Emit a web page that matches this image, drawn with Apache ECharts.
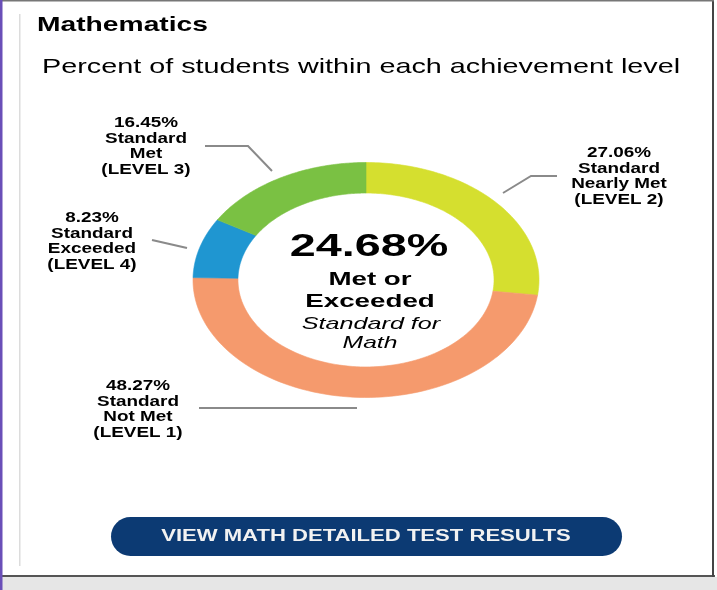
<!DOCTYPE html>
<html>
<head>
<meta charset="utf-8">
<script src="https://cdn.jsdelivr.net/npm/echarts@6/dist/echarts.min.js"></script>
<style>
  html, body { margin: 0; padding: 0; background: #fff; }
  #chart { width: 717px; height: 590px; }
</style>
</head>
<body>
<div id="chart"></div>
<script>
  // slices in clockwise order starting at 12 o'clock
  const levelNames = ['Standard\nNearly Met\n(LEVEL 2)', 'Standard\nNot Met\n(LEVEL 1)', 'Standard\nExceeded\n(LEVEL 4)', 'Standard\nMet\n(LEVEL 3)']
  const percents = [27.06, 48.27, 8.23, 16.45]
  const metIdx = [2, 3] // level 4 + level 3

  const sliceColors = ['#d5df2f', '#f59a6d', '#1f96d1', '#7ac143']
  const FONT = '"Liberation Sans", Arial, sans-serif'

  const total = percents.reduce((a, b) => a + b, 0)
  let acc = 0
  const sliceData = percents.map((p, i) => {
    const item = {value: [acc / total, (acc + p) / total], itemStyle: {color: sliceColors[i]}}
    acc += p
    return item
  })
  const metTotal = metIdx.reduce((s, i) => s + percents[i], 0)

  const INNER = 0.74
  function renderSlice(params, api) {
    const start = api.value(0)
    const end = api.value(1)
    const steps = 90
    const pts = []
    for (let k = 0; k <= steps; k++) {
      const a = Math.PI / 2 - (start + (end - start) * k / steps) * 2 * Math.PI
      pts.push(api.coord([Math.cos(a), Math.sin(a)]))
    }
    for (let k = steps; k >= 0; k--) {
      const a = Math.PI / 2 - (start + (end - start) * k / steps) * 2 * Math.PI
      pts.push(api.coord([INNER * Math.cos(a), INNER * Math.sin(a)]))
    }
    const c = api.visual('color')
    return {type: 'polygon', shape: {points: pts}, style: {fill: c, stroke: c, lineWidth: 0.6}}
  }

  // label placement, same order as percents
  const labelPos = [[619, 176.5], [138, 409.5], [92, 241.5], [146, 146.5]]
  const leaderPts = [
    [[557, 176], [531, 176], [503, 193]],
    [[199, 408], [357, 408]],
    [[152, 240], [187, 248]],
    [[205, 146], [248, 146], [272, 171]]
  ]

  function txt(text, x, y, font, sx, opts) {
    return Object.assign({
      type: 'text', x: x, y: y, scaleX: sx, z: 10,
      style: {
        text: text, font: font, fill: '#000',
        align: 'center', verticalAlign: 'middle',
        textAlign: 'center', textVerticalAlign: 'middle'
      }
    }, opts || {})
  }

  const graphics = [
    // frame
    {type: 'rect', shape: {x: 0, y: 0, width: 717, height: 590}, style: {fill: '#fff'}, z: 0},
    {type: 'rect', shape: {x: 0, y: 577, width: 717, height: 13}, style: {fill: '#e6e6e6'}, z: 1},
    {type: 'rect', shape: {x: 0, y: 575, width: 715, height: 2}, style: {fill: '#555'}, z: 2},
    {type: 'rect', shape: {x: 712, y: 0, width: 2, height: 577}, style: {fill: '#444'}, z: 2},
    {type: 'rect', shape: {x: 2, y: 0, width: 712, height: 1.5}, style: {fill: '#777'}, z: 2},
    {type: 'rect', shape: {x: 0, y: 0, width: 2.5, height: 590}, style: {fill: '#6a4fb8'}, z: 3},
    {type: 'rect', shape: {x: 19, y: 14, width: 1.5, height: 552}, style: {fill: '#dcdcdc'}, z: 2},
    // titles
    txt('Mathematics', 37, 25, 'bold 21px ' + FONT, 1.344, {style: {text: 'Mathematics', font: 'bold 21px ' + FONT, fill: '#000', align: 'left', verticalAlign: 'middle', textAlign: 'left', textVerticalAlign: 'middle'}}),
    txt('Percent of students within each achievement level', 42, 67, '21px ' + FONT, 1.37, {style: {text: 'Percent of students within each achievement level', font: '21px ' + FONT, fill: '#000', align: 'left', verticalAlign: 'middle', textAlign: 'left', textVerticalAlign: 'middle'}}),
    // centre
    txt(metTotal.toFixed(2) + '%', 369, 247, 'bold 32px ' + FONT, 1.46),
    txt('Met or', 370, 280, 'bold 19px ' + FONT, 1.46),
    txt('Exceeded', 370, 302, 'bold 19px ' + FONT, 1.46),
    txt('Standard for', 371, 324, 'italic 17px ' + FONT, 1.48),
    txt('Math', 370, 343, 'italic 17px ' + FONT, 1.45),
    // button
    {type: 'rect', shape: {x: 111, y: 517, width: 511, height: 39, r: 19.5}, style: {fill: '#0c3a73'}, z: 5},
    txt('VIEW MATH DETAILED TEST RESULTS', 366, 536.5, 'bold 16px ' + FONT, 1.38, {style: {text: 'VIEW MATH DETAILED TEST RESULTS', font: 'bold 16px ' + FONT, fill: '#f2f2f2', align: 'center', verticalAlign: 'middle', textAlign: 'center', textVerticalAlign: 'middle'}})
  ]

  percents.forEach((p, i) => {
    const t = txt(p.toFixed(2) + '%\n' + levelNames[i], labelPos[i][0], labelPos[i][1], 'bold 14px ' + FONT, 1.35)
    t.style.lineHeight = 15.5
    graphics.push(t)
    graphics.push({type: 'polyline', shape: {points: leaderPts[i]}, style: {stroke: '#8a8a8a', lineWidth: 2, fill: null}, z: 6})
  })

  const chart = echarts.init(document.getElementById('chart'))
  chart.setOption({
    animation: false,
    grid: {left: 193, top: 162.5, width: 346, height: 235},
    xAxis: {type: 'value', min: -1, max: 1, show: false},
    yAxis: {type: 'value', min: -1, max: 1, show: false},
    graphic: {elements: graphics},
    series: [{
      type: 'custom',
      renderItem: renderSlice,
      data: sliceData,
      z: 4,
      silent: true
    }]
  })
</script>
</body>
</html>
